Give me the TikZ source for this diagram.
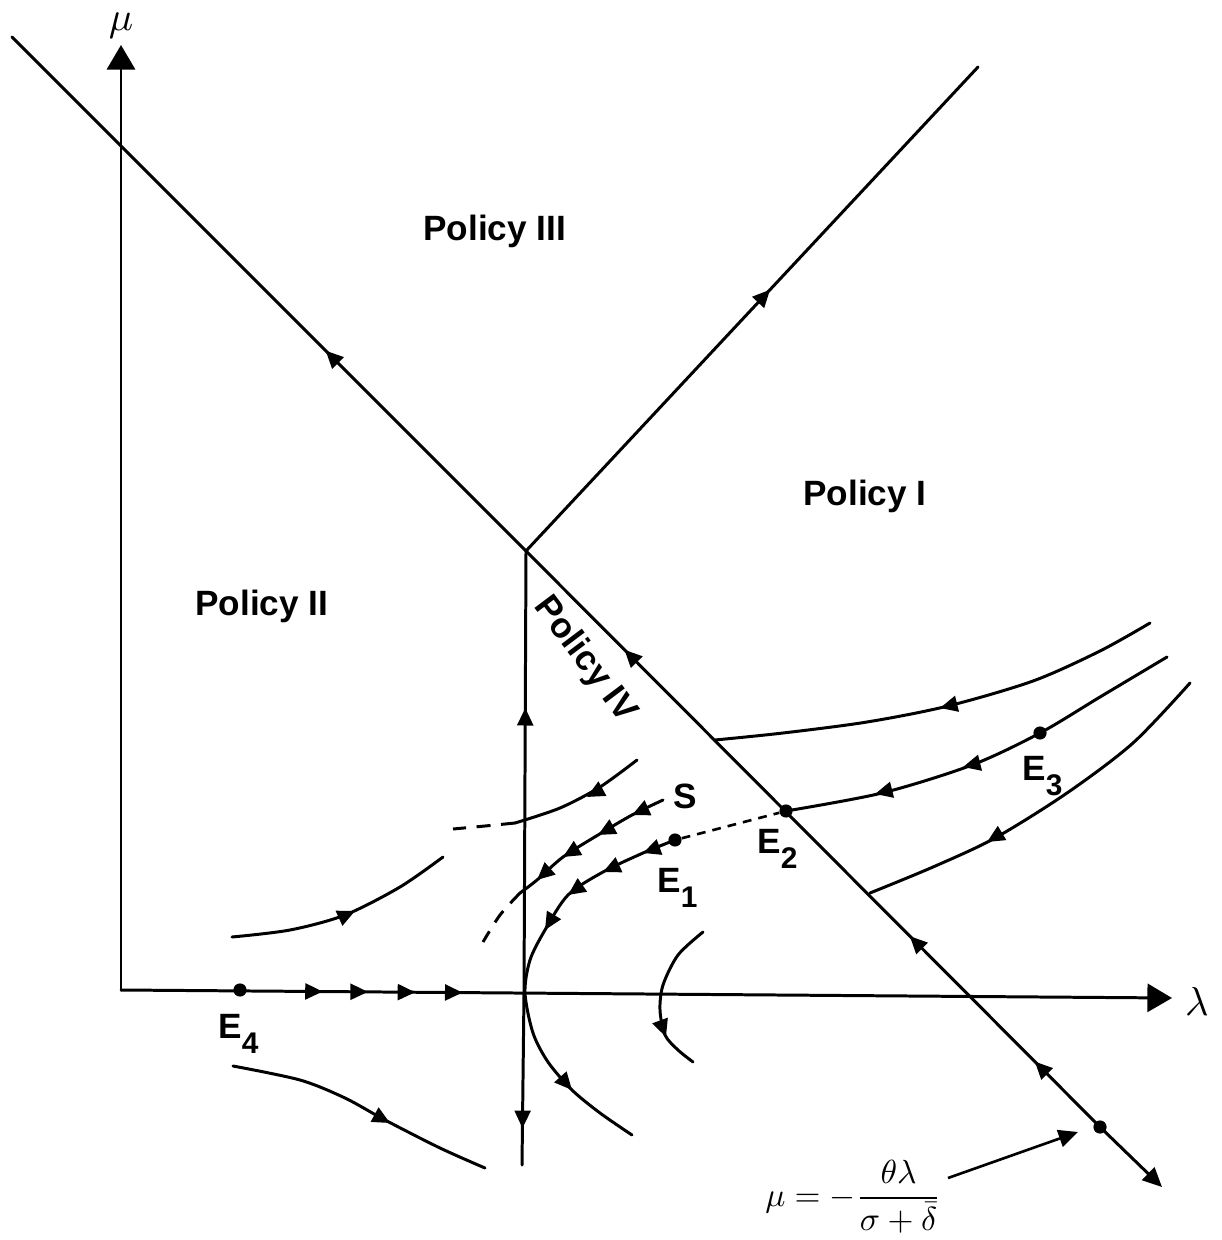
\documentclass[tikz,border=0pt]{standalone}
\usepackage{fontspec}
\usepackage{graphicx}
\setsansfont{Liberation Sans}
\usetikzlibrary{arrows.meta,decorations.markings}
\newcommand\midtip{\arrow{Triangle[length=10pt,width=9pt]}}
\newcommand\Elab[1]{E\raisebox{-9pt}{\fontsize{17}{17}\selectfont #1}}
\begin{document}
\begin{tikzpicture}[x=0.02cm,y=-0.02cm,
  ln/.style={line width=1.7pt, line cap=round},
  flow/.style={postaction={decorate,decoration={markings,mark=at position #1 with {\midtip}}}},
  fa/.style={line width=1.7pt, -{Triangle[length=10pt,width=9pt]}},
  bigtip/.style={-{Triangle[length=14pt,width=16pt]}},
  endtip/.style={-{Triangle[length=11pt,width=10pt]}},
  lbl/.style={font=\fontsize{20}{24}\selectfont\sffamily\bfseries, inner sep=0pt},
  axlbl/.style={inner sep=0pt},
  dot/.style={circle, fill, inner sep=0pt, minimum size=7.5pt},
  dsh/.style={line width=1.7pt, dash pattern=on 8pt off 6pt},
  dshs/.style={line width=1.5pt, dash pattern=on 5pt off 4pt}]
\useasboundingbox (0,0) rectangle (1221,1240);
% key points
\coordinate (O) at (121,990);
\coordinate (MuTop) at (121,45);
\coordinate (LamEnd) at (1172,998);
\coordinate (V) at (526,551);
\coordinate (UL) at (12,37);
\coordinate (UR) at (978,67);
\coordinate (DR) at (1162,1187);
\coordinate (VB) at (524,993);
\coordinate (VBot) at (522,1165);
\coordinate (FA) at (948,1178);
\coordinate (FT) at (1078,1132);
% axes
\draw[ln,bigtip] (O) -- (MuTop);
\draw[ln,bigtip,flow=0.192,flow=0.235,flow=0.28,flow=0.325] (O) -- (LamEnd);
% dots
\node[dot] (p5) at (1100,1127) {};
\node[dot] (e1) at (675,840) {};
\node[dot] (e2) at (786,811) {};
\node[dot] (e3) at (1040,733) {};
\node[dot] (e4) at (240,990) {};
% boundary lines
\draw[ln,flow=0.06,flow=0.175,flow=0.4375,flow=0.712] (p5.center) -- (V) -- (UL);
\draw[ln,endtip] (p5.center) -- (DR);
\draw[ln,flow=0.54] (V) -- (UR);
\draw[ln,flow=0.645] (VB) -- (V);
\draw[ln,flow=0.786] (VB) -- (VBot);
% trajectories right
\draw[ln] plot[smooth] coordinates {(1150,623) (1100,651) (1033,681) (948,706) (867,722) (783,733) (715,740)};
\draw[fa] (952,705) -- (940,708);
\draw[ln] plot[smooth] coordinates {(1167,657) (1100,697) (1040,733) (972,765) (882,793) (786,811)};
\draw[fa] (975,764) -- (963,767);
\draw[fa] (887,791) -- (875,794);
\draw[ln] plot[smooth] coordinates {(1190,683) (1133,743) (1067,793) (995,838) (933,867) (870,893)};
\draw[fa] (997,836) -- (987,842);
% near S
\draw[ln] plot[smooth] coordinates {(637,760) (600,787) (560,808) (515,823)};
\draw[fa] (598,791) -- (587,797);
\draw[dsh] plot[smooth] coordinates {(515,823) (485,826) (453,829)};
\draw[ln] plot[smooth] coordinates {(663,800) (632,815) (598,835) (563,857) (537,880) (520,893)};
\draw[fa] (643,810) -- (632,815);
\draw[fa] (609,829) -- (598,835);
\draw[fa] (573,851) -- (563,857);
\draw[fa] (546,872) -- (537,880);
\draw[dsh] plot[smooth] coordinates {(520,893) (500,915) (483,942)};
% from E1
\draw[ln] plot[smooth] coordinates {(675,840) (643,853) (603,872) (568,895) (545,930) (530,960) (525,993) (533,1033) (548,1062) (572,1090) (600,1113) (632,1135)};
\draw[fa] (654,849) -- (643,853);
\draw[fa] (614,867) -- (603,872);
\draw[fa] (578,888) -- (568,895);
\draw[fa] (551,920) -- (545,930);
\draw[fa] (564,1081) -- (572,1090);
\draw[dshs] (e1) -- (e2);
% left trajectories
\draw[ln] plot[smooth] coordinates {(232,937) (290,930) (345,915) (400,887) (443,857)};
\draw[fa] (344,916) -- (355,911);
\draw[ln] plot[smooth] coordinates {(233,1066) (300,1080) (345,1098) (385,1120) (440,1148) (485,1168)};
\draw[fa] (379,1117) -- (390,1123);
\draw[ln] plot[smooth] coordinates {(703,932) (678,955) (663,985) (660,1010) (665,1035) (678,1050) (693,1062)};
\draw[fa] (662,1026) -- (666,1037);
% labels
\node[axlbl,anchor=base] (mu) at (121,31) {\scalebox{2.3}{$\mu$}};
\node[axlbl] (lam) at (1197,1001) {\scalebox{2.3}{$\lambda$}};
\node[lbl,anchor=base west] (l1) at (657,892) {\Elab{1}};
\node[lbl,anchor=base west] (l2) at (757,853) {\Elab{2}};
\node[lbl,anchor=base west] (l3) at (1022,780) {\Elab{3}};
\node[lbl,anchor=base west] (l4) at (218,1038) {\Elab{4}};
\node[lbl,anchor=base west] (s) at (673,808) {S};
\node[lbl,anchor=base west] (pIII) at (423,240) {Policy III};
\node[lbl,anchor=base west] (pI) at (803,505) {Policy I};
\node[lbl,anchor=base west] (pII) at (195,615) {Policy II};
\node[lbl,rotate=-53] (pIV) at (585,660) {Policy IV};
\node[inner sep=0pt, anchor=west] (formula) at (765,1197) {\scalebox{1.9}{$\displaystyle \mu = -\frac{\theta\lambda}{\sigma+\bar{\delta}}$}};
\draw[line width=1.5pt,endtip] (FA) -- (FT);
\end{tikzpicture}
\end{document}
